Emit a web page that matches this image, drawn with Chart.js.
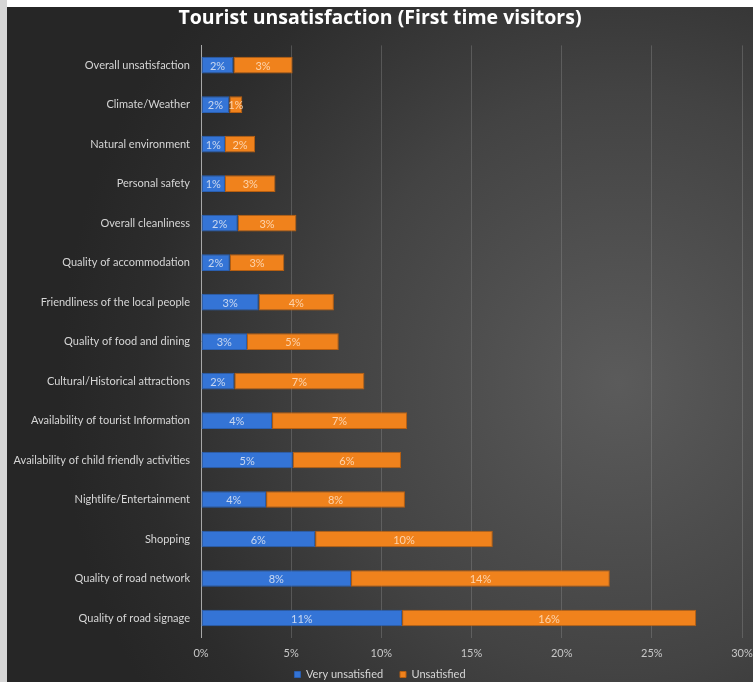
<!DOCTYPE html>
<html lang="en">
<head>
  <meta charset="UTF-8" />
  <title>Tourist unsatisfaction (First time visitors)</title>
  <script src="https://cdn.jsdelivr.net/npm/chart.js"></script>
  <style>
    html, body {
      margin: 0;
      padding: 0;
      width: 753px;
      height: 682px;
      overflow: hidden;
      background: #ffffff;
    }
    /* grey strip on the left like the original screenshot */
    .edge {
      position: absolute;
      left: 0; top: 0;
      width: 7px; height: 682px;
      background: #d6d6d6;
    }
    .chart-box {
      position: absolute;
      left: 7px;
      top: 7px;
      width: 746px;
      height: 683px;
      background: radial-gradient(ellipse 75% 85% at 82% 55%, #5b5b5b 0%, #434343 50%, #2c2c2c 85%, #262626 100%);
    }
  </style>
</head>
<body>
  <div class="edge"></div>
  <div class="chart-box">
    <canvas id="unsatChart" width="746" height="683"></canvas>
  </div>
  <script>
    // Data (percent of first time visitors)
    const categories = [
      'Overall unsatisfaction',
      'Climate/Weather',
      'Natural environment',
      'Personal safety',
      'Overall cleanliness',
      'Quality of accommodation',
      'Friendliness of the local people',
      'Quality of food and dining',
      'Cultural/Historical attractions',
      'Availability of tourist Information',
      'Availability of child friendly activities',
      'Nightlife/Entertainment',
      'Shopping',
      'Quality of road network',
      'Quality of road signage'
    ];
    const veryUnsatisfied = [1.8, 1.57, 1.33, 1.33, 2.04, 1.6, 3.2, 2.55, 1.85, 3.94, 5.09, 3.61, 6.33, 8.32, 11.15];
    const unsatisfied = [3.28, 0.72, 1.67, 2.8, 3.25, 3.02, 4.17, 5.09, 7.21, 7.49, 6.0, 7.7, 9.85, 14.35, 16.31];
    const xTicks = [0, 5, 10, 15, 20, 25, 30];

    const FONT = 'Lato, "Open Sans", sans-serif';

    // draws the "2%" style labels in the middle of each bar segment
    const barLabels = {
      id: 'barLabels',
      afterDatasetsDraw(chart) {
        const ctx = chart.ctx;
        ctx.save();
        ctx.font = '11px ' + FONT;
        ctx.textAlign = 'center';
        ctx.textBaseline = 'middle';
        chart.data.datasets.forEach((ds, i) => {
          const meta = chart.getDatasetMeta(i);
          meta.data.forEach((bar, j) => {
            const v = ds.data[j];
            const cx = (bar.x + bar.base) / 2;
            ctx.fillStyle = i === 0 ? 'rgba(225,232,245,0.85)' : 'rgba(255,225,195,0.85)';
            ctx.fillText(Math.round(v) + '%', cx, bar.y + 1);
          });
        });
        ctx.restore();
      }
    };

    const ctx = document.getElementById('unsatChart').getContext('2d');
    new Chart(ctx, {
      type: 'bar',
      data: {
        labels: categories,
        datasets: [
          {
            label: 'Very unsatisfied',
            data: veryUnsatisfied,
            backgroundColor: '#3474d6',
            borderColor: '#2a5fb0',
            borderWidth: 1,
            borderSkipped: false,
            categoryPercentage: 1.0,
            barPercentage: 0.42
          },
          {
            label: 'Unsatisfied',
            data: unsatisfied,
            backgroundColor: '#f0821c',
            borderColor: '#b85f10',
            borderWidth: 1,
            borderSkipped: false,
            categoryPercentage: 1.0,
            barPercentage: 0.42
          }
        ]
      },
      options: {
        indexAxis: 'y',
        responsive: false,
        animation: false,
        layout: { padding: 0 },
        scales: {
          x: {
            stacked: true,
            min: 0,
            max: 30,
            afterBuildTicks: (scale) => { scale.ticks = xTicks.map(v => ({ value: v })); },
            afterFit: (scale) => { scale.paddingRight = 11; },
            ticks: {
              color: '#c8c8c8',
              font: { size: 11, family: FONT },
              padding: 9,
              callback: (v) => v + '%'
            },
            grid: {
              color: 'rgba(150,150,150,0.35)',
              lineWidth: 1,
              drawTicks: false
            },
            border: { display: false }
          },
          y: {
            stacked: true,
            afterFit: (scale) => { scale.width = 194; },
            ticks: {
              color: '#d6d6d6',
              font: { size: 11, family: FONT },
              padding: 11
            },
            grid: { display: false, drawTicks: false },
            border: { display: true, color: '#a8a8a8', width: 1 }
          }
        },
        plugins: {
          title: {
            display: true,
            text: 'Tourist unsatisfaction (First time visitors)',
            color: '#ffffff',
            font: { size: 19.5, weight: 'bold', family: '"Open Sans", sans-serif' },
            padding: { top: 0, bottom: 15 }
          },
          legend: {
            position: 'bottom',
            labels: {
              color: '#d6d6d6',
              font: { size: 11, family: FONT },
              boxWidth: 6,
              boxHeight: 6,
              padding: 0,
              generateLabels: (chart) => {
                const items = Chart.defaults.plugins.legend.labels.generateLabels(chart);
                // extra room between the two legend entries
                items[0].text = items[0].text + '      ';
                return items;
              }
            }
          },
          tooltip: { enabled: false }
        }
      },
      plugins: [barLabels]
    });
  </script>
</body>
</html>
